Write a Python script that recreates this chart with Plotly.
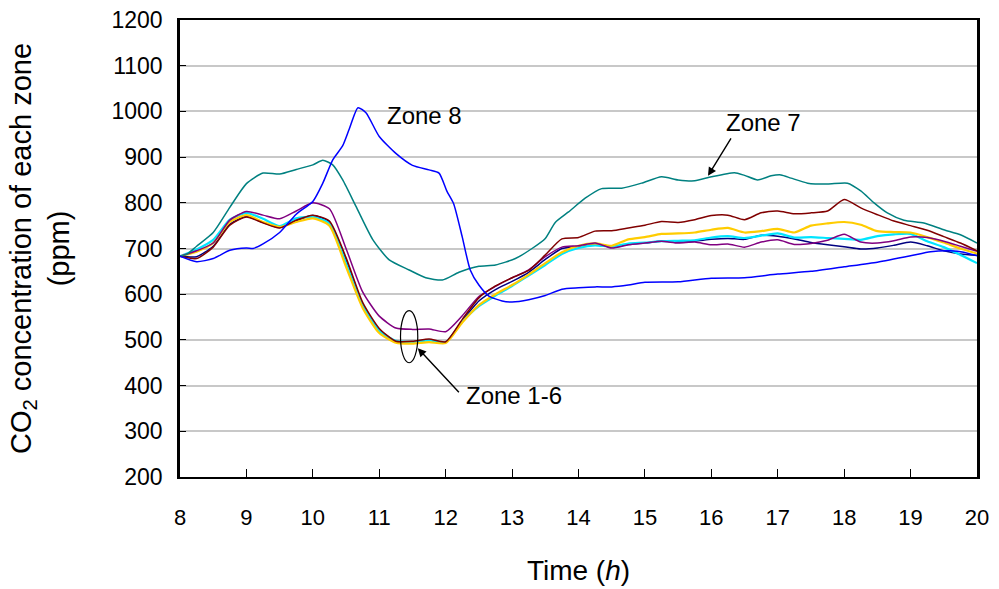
import plotly.graph_objects as go

# ---------------- data ----------------
t_cluster = [8 + 0.25 * i for i in range(49)]

zone_navy = [683, 682, 705, 753, 770, 757, 746, 761, 772, 758, 675, 578, 521, 496, 496, 500, 495,
             542, 585, 610, 628, 648, 676, 700, 705, 710, 703, 709, 712, 716, 714, 716, 720, 722,
             720, 729, 727, 721, 713, 708, 704, 699, 701, 707, 714, 706, 695, 688, 685]
zone_yellow = [683, 693, 712, 758, 773, 758, 747, 758, 766, 750, 660, 570, 515, 494, 492, 495, 493,
               538, 576, 600, 620, 643, 668, 692, 706, 711, 706, 720, 725, 732, 733, 735, 741, 745,
               735, 738, 743, 735, 750, 755, 758, 752, 738, 736, 735, 725, 713, 700, 689]
zone_cyan = [683, 698, 719, 763, 778, 765, 749, 766, 769, 755, 668, 575, 520, 498, 496, 499, 495,
             540, 574, 597, 618, 641, 664, 688, 701, 707, 704, 711, 713, 716, 717, 718, 724, 727,
             723, 728, 733, 724, 725, 723, 721, 719, 727, 731, 732, 716, 703, 686, 668]
zone_purple = [683, 695, 712, 762, 781, 773, 765, 782, 800, 787, 700, 605, 552, 526, 523, 524, 518,
               553, 595, 617, 636, 653, 682, 703, 706, 712, 701, 708, 712, 716, 712, 714, 708, 710,
               703, 714, 719, 709, 711, 718, 731, 714, 712, 717, 725, 724, 716, 705, 694]
zone_maroon = [683, 678, 703, 751, 769, 756, 745, 762, 773, 760, 680, 582, 525, 497, 497, 502, 496,
               545, 592, 618, 636, 652, 686, 721, 724, 738, 739, 745, 751, 759, 757, 763, 772, 773,
               763, 778, 782, 776, 778, 782, 807, 789, 774, 760, 750, 740, 726, 712, 695]

t_zone7 = [8.0, 8.1, 8.25, 8.5, 8.75, 9.0, 9.25, 9.5, 9.75, 10.0, 10.15, 10.3, 10.45, 10.65, 10.9,
           11.15, 11.45, 11.7, 11.95, 12.2, 12.5, 12.75, 13.05, 13.3, 13.5, 13.65, 13.85, 14.1,
           14.35, 14.65, 14.95, 15.25, 15.5, 15.75, 16.0, 16.35, 16.5, 16.7, 16.9, 17.05, 17.2,
           17.45, 17.75, 18.05, 18.25, 18.45, 18.65, 18.9, 19.2, 19.5, 19.75, 20.0]
zone7 = [683, 687, 705, 735, 790, 842, 865, 863, 873, 883, 893, 883, 850, 792, 720, 675, 653, 636,
         631, 648, 661, 664, 678, 700, 722, 757, 780, 810, 831, 832, 843, 857, 850, 848, 857, 866,
         860, 850, 859, 861, 854, 843, 841, 843, 826, 800, 778, 762, 756, 741, 730, 712]

t_zone8 = [8.0, 8.25, 8.5, 8.75, 9.0, 9.1, 9.25, 9.5, 9.75, 10.0, 10.15, 10.3, 10.45, 10.55, 10.68,
           10.8, 11.0, 11.25, 11.5, 11.75, 11.9, 12.02, 12.12, 12.25, 12.37, 12.5, 12.65, 12.85,
           13.0, 13.25, 13.5, 13.75, 14.0, 14.25, 14.5, 14.75, 15.0, 15.5, 16.0, 16.5, 17.0,
           17.5, 18.0, 18.5, 19.0, 19.3, 19.6, 19.8, 20.0]
zone8 = [683, 671, 678, 696, 701, 700, 710, 735, 775, 803, 843, 894, 925, 962, 1008, 997, 945, 908,
         882, 872, 865, 825, 798, 725, 653, 620, 596, 585, 583, 588, 597, 611, 614, 616, 616, 620,
         626, 627, 635, 636, 644, 650, 660, 670, 684, 693, 695, 692, 684]

x_ticks = list(range(8, 21))
y_ticks = list(range(200, 1201, 100))

# ---------------- figure ----------------
fig = go.Figure()

cluster = [
    (zone_navy, "#000080", 1.5),
    (zone_cyan, "#00E5FF", 2.2),
    (zone_yellow, "#FFCC00", 2.2),
    (zone_purple, "#800080", 1.5),
    (zone_maroon, "#800000", 1.5),
]
for vals, col, w in cluster:
    fig.add_trace(go.Scatter(x=t_cluster, y=vals, mode="lines",
                             line=dict(color=col, width=w, shape="spline", smoothing=0.6),
                             showlegend=False))

fig.add_trace(go.Scatter(x=t_zone7, y=zone7, mode="lines",
                         line=dict(color="#008080", width=1.5, shape="spline", smoothing=0.6),
                         showlegend=False))
fig.add_trace(go.Scatter(x=t_zone8, y=zone8, mode="lines",
                         line=dict(color="#0000FF", width=1.5, shape="spline", smoothing=0.6),
                         showlegend=False))

font_main = "Liberation Sans, Arial, sans-serif"
ann_font = dict(size=24, color="black", family=font_main)

fig.add_annotation(x=11.08, y=992, xref="x", yref="y", text="Zone 8", showarrow=False,
                   xanchor="left", yanchor="middle", font=ann_font)
fig.add_annotation(x=15.95, y=859, ax=16.31, ay=944, axref="x", ayref="y", xref="x", yref="y",
                   text="", showarrow=True, arrowhead=2, arrowsize=1.2, arrowwidth=1.4, arrowcolor="black")
fig.add_annotation(x=16.78, y=975, xref="x", yref="y", text="Zone 7", showarrow=False,
                   xanchor="center", yanchor="middle", font=ann_font)
fig.add_annotation(x=11.58, y=482, ax=12.22, ay=382, axref="x", ayref="y", xref="x", yref="y",
                   text="", showarrow=True, arrowhead=2, arrowsize=1.2, arrowwidth=1.4, arrowcolor="black")
fig.add_annotation(x=12.28, y=379, xref="x", yref="y", text="Zone 1-6", showarrow=False,
                   xanchor="left", yanchor="middle", font=ann_font)

fig.add_shape(type="circle", xref="x", yref="y", x0=11.32, x1=11.58, y0=450, y1=564,
              line=dict(color="black", width=1.2))

fig.update_layout(
    width=999, height=589,
    margin=dict(l=180, r=22, t=20, b=112),
    paper_bgcolor="white", plot_bgcolor="white",
    font=dict(family=font_main, color="black", size=22),
    showlegend=False,
)
fig.update_xaxes(
    range=[8, 20], tickvals=x_ticks, ticktext=[str(v) for v in x_ticks],
    ticks="inside", ticklen=8, tickwidth=1, tickcolor="black",
    showline=True, linecolor="black", linewidth=2, mirror=True,
    showgrid=False, zeroline=False, ticklabelstandoff=20, automargin=False,
    tickfont=dict(size=22, family=font_main),
    title=dict(text="Time (<i>h</i>)", font=dict(size=28, family=font_main), standoff=31),
)
fig.update_yaxes(
    range=[200, 1200], tickvals=y_ticks, ticktext=[str(v) for v in y_ticks],
    ticks="inside", ticklen=6, tickwidth=1, tickcolor="black",
    showline=True, linecolor="black", linewidth=2.5, mirror=True,
    showgrid=True, gridcolor="#C8C8C8", gridwidth=1.5, zeroline=False, ticklabelstandoff=10,
    automargin=False,
    tickfont=dict(size=23, family=font_main),
    title=dict(text="CO<sub>2</sub> concentration of each zone<br>(ppm)",
               font=dict(size=29, family=font_main), standoff=34),
)

fig.write_html("out.html")
